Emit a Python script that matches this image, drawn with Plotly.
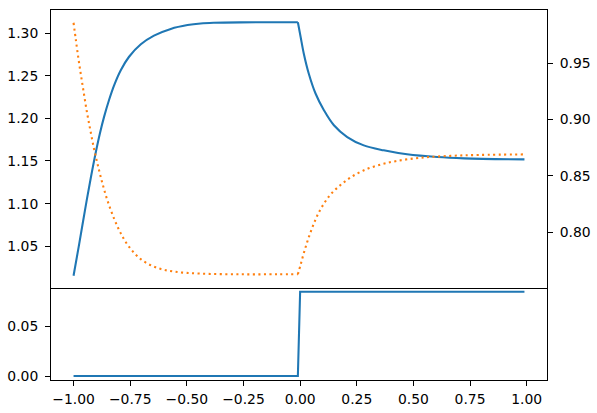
import plotly.graph_objects as go

# ---- data ----
blue_x = [-1.000, -0.975, -0.950, -0.924, -0.902, -0.884, -0.865, -0.843, -0.821, -0.791,
          -0.755, -0.703, -0.645, -0.571, -0.497, -0.439, -0.382, -0.263, -0.10, -0.01,
          0.002, 0.016, 0.038, 0.068, 0.105, 0.149, 0.208, 0.281, 0.369,
          0.472, 0.605, 0.724, 0.99]
blue_y = [1.0155, 1.0528, 1.0916, 1.1301, 1.1600, 1.1820, 1.2020, 1.2218, 1.2387, 1.2567,
          1.2722, 1.2868, 1.2970, 1.3048, 1.3093, 1.3112, 1.3120, 1.3125, 1.3126, 1.3126,
          1.2957, 1.2761, 1.2526, 1.2291, 1.2095, 1.1919, 1.1781, 1.1683, 1.1625,
          1.1578, 1.1546, 1.1531, 1.1519]

orange_x = [-1.000, -0.990, -0.980, -0.968, -0.956, -0.942, -0.927, -0.910, -0.892, -0.873,
            -0.851, -0.821, -0.792, -0.755, -0.704, -0.638, -0.557, -0.439, -0.263, -0.10,
            -0.01, 0.002, 0.016, 0.031, 0.046, 0.064, 0.083, 0.108, 0.138,
            0.178, 0.222, 0.275, 0.341, 0.421, 0.531, 0.663, 0.795, 0.99]
orange_y = [0.9858, 0.9709, 0.9562, 0.9402, 0.9251, 0.9078, 0.8917, 0.8744, 0.8588, 0.8437,
            0.8286, 0.8121, 0.7993, 0.7872, 0.7763, 0.7690, 0.7652, 0.7634, 0.7628, 0.7628,
            0.7628, 0.7712, 0.7815, 0.7913, 0.8001, 0.8095, 0.8179, 0.8264, 0.8344,
            0.8419, 0.8486, 0.8544, 0.8593, 0.8631, 0.8661, 0.8678, 0.8686, 0.8691]

step_x = [-1.00, -0.01, 0.0, 0.99]
step_y = [0.0, 0.0, 0.0847, 0.0847]

x_ticks = [-1.0, -0.75, -0.5, -0.25, 0.0, 0.25, 0.5, 0.75, 1.0]
x_tick_text = ["\u22121.00", "\u22120.75", "\u22120.50", "\u22120.25", "0.00", "0.25", "0.50", "0.75", "1.00"]
left_ticks = [1.05, 1.10, 1.15, 1.20, 1.25, 1.30]
right_ticks = [0.80, 0.85, 0.90, 0.95]
bottom_ticks = [0.00, 0.05]

BLUE = "#1f77b4"
ORANGE = "#ff7f0e"
FONT = dict(family="DejaVu Sans", size=13.9, color="black")

fig = go.Figure()

# the curves have a sharp corner at x = -0.01; draw each smooth piece separately
bk = blue_x.index(-0.01)
ok = orange_x.index(-0.01)
pieces = [
    (blue_x[:bk + 1], blue_y[:bk + 1], "y", BLUE, "solid"),
    (blue_x[bk:], blue_y[bk:], "y", BLUE, "solid"),
    (orange_x[:ok + 1], orange_y[:ok + 1], "y2", ORANGE, "2.08px,3.44px"),
    (orange_x[ok:], orange_y[ok:], "y2", ORANGE, "2.08px,3.44px"),
]
for px_, py_, ya, col, dash in pieces:
    fig.add_trace(go.Scatter(x=px_, y=py_, mode="lines", xaxis="x", yaxis=ya,
                             line=dict(color=col, width=2.08, dash=dash,
                                       shape="spline", smoothing=1.0),
                             showlegend=False))
fig.add_trace(go.Scatter(x=step_x, y=step_y, mode="lines", xaxis="x2", yaxis="y3",
                         line=dict(color=BLUE, width=2.08), showlegend=False))

xr = [-1.0995, 1.0895]
common_ax = dict(showgrid=False, zeroline=False, showline=True, linecolor="black",
                 linewidth=1.1, ticks="outside", ticklen=4.86, tickwidth=1.1,
                 tickcolor="black", tickfont=FONT, automargin=False)

fig.update_layout(
    width=597, height=413,
    margin=dict(l=51, r=50, t=10, b=33.4, autoexpand=False),
    paper_bgcolor="white", plot_bgcolor="white",
    font=FONT,
    xaxis=dict(common_ax, domain=[0, 1], anchor="y", range=xr, showticklabels=False,
               ticks="", mirror=True),
    yaxis=dict(common_ax, domain=[0.25, 1], anchor="x", range=[1.0017, 1.3270],
               tickvals=left_ticks, ticktext=[f"{v:.2f}" for v in left_ticks],
               ticklabelstandoff=4),
    yaxis2=dict(common_ax, overlaying="y", side="right", anchor="x", range=[0.7511, 0.9971],
                tickvals=right_ticks, ticktext=[f"{v:.2f}" for v in right_ticks],
                ticklabelstandoff=4),
    xaxis2=dict(common_ax, domain=[0, 1], anchor="y3", range=xr, mirror=False,
                tickvals=x_ticks, ticktext=x_tick_text, ticklabelstandoff=1),
    yaxis3=dict(common_ax, domain=[0, 0.25], anchor="x2", range=[-0.0040, 0.0889],
                mirror=True, tickvals=bottom_ticks,
                ticktext=[f"{v:.2f}" for v in bottom_ticks], ticklabelstandoff=4),
)

fig.write_html("out.html")
